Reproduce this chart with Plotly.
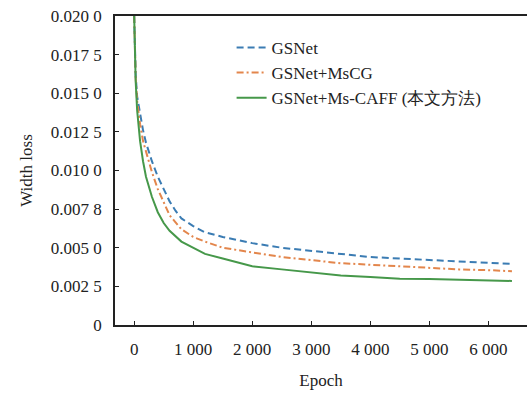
import plotly.graph_objects as go

# Data
epochs_blue = [0, 25, 50, 100, 150, 200, 300, 400, 500, 600, 700, 800, 1000, 1200, 1500,
               2000, 2500, 3000, 3500, 4000, 4500, 5000, 5500, 6000, 6400]
gsnet = [0.0200, 0.0162, 0.0148, 0.0136, 0.0126, 0.0118, 0.0106, 0.0096, 0.0088, 0.0080, 0.0074,
         0.0069, 0.0064, 0.0060, 0.0057, 0.0053, 0.0050, 0.0048, 0.0046, 0.0044, 0.0043,
         0.0042, 0.0041, 0.00400, 0.00395]

epochs_orange = [0, 25, 50, 100, 150, 200, 250, 300, 400, 500, 600, 800, 1000, 1200, 1500,
                 2000, 2500, 3000, 3500, 4000, 4500, 5000, 5500, 6000, 6400]
gsnet_mscg = [0.0200, 0.0160, 0.0145, 0.0130, 0.0119, 0.0112, 0.0105, 0.0099, 0.0088, 0.0079, 0.0071,
              0.0062, 0.0057, 0.0054, 0.0050, 0.0047, 0.0044, 0.0042, 0.0040, 0.0039, 0.0038,
              0.0037, 0.0036, 0.00355, 0.00348]

epochs_green = [0, 25, 50, 100, 150, 200, 300, 400, 500, 600, 800, 1000, 1200, 1500,
                2000, 2500, 3000, 3500, 4000, 4500, 5000, 5500, 6000, 6400]
gsnet_mscaff = [0.0200, 0.0158, 0.0139, 0.0119, 0.0106, 0.0096, 0.0083, 0.0073, 0.0066, 0.0061,
                0.0054, 0.0050, 0.0046, 0.0043, 0.0038, 0.0036, 0.0034, 0.0032, 0.0031,
                0.0030, 0.00298, 0.00292, 0.00288, 0.00285]

series_names = ["GSNet", "GSNet+MsCG", "GSNet+Ms-CAFF (本文方法)"]

x_tickvals = [0, 1000, 2000, 3000, 4000, 5000, 6000]
x_ticktext = ["0", "1 000", "2 000", "3 000", "4 000", "5 000", "6 000"]
y_tickvals = [0, 0.0025, 0.005, 0.0075, 0.01, 0.0125, 0.015, 0.0175, 0.02]
y_ticktext = ["0", "0.002 5", "0.005 0", "0.007 8", "0.010 0", "0.012 5", "0.015 0", "0.017 5", "0.020 0"]

font_family = "Liberation Serif"

fig = go.Figure()
fig.add_trace(go.Scatter(x=epochs_blue, y=gsnet, mode="lines", name=series_names[0],
                         line=dict(color="#3b7cb3", width=2, dash="7px,4px")))
fig.add_trace(go.Scatter(x=epochs_orange, y=gsnet_mscg, mode="lines", name=series_names[1],
                         line=dict(color="#e3864c", width=2, dash="7px,3px,2px,3px")))
fig.add_trace(go.Scatter(x=epochs_green, y=gsnet_mscaff, mode="lines", name=series_names[2],
                         line=dict(color="#46984a", width=2)))

fig.update_layout(
    width=528, height=394,
    margin=dict(l=115, r=1, t=16, b=69),
    paper_bgcolor="white", plot_bgcolor="white",
    font=dict(family=font_family, size=17, color="#222222"),
    showlegend=True,
    legend=dict(x=0.283, y=0.955, xanchor="left", yanchor="top",
                bgcolor="rgba(0,0,0,0)", font=dict(size=17, family=font_family),
                tracegroupgap=0),
    xaxis=dict(range=[-325, 6655], tickvals=x_tickvals, ticktext=x_ticktext,
               ticks="inside", ticklen=4, tickcolor="#222", showline=True, linecolor="#222",
               linewidth=1.5, mirror=True, showgrid=False, zeroline=False,
               ticklabelstandoff=8,
               title=dict(text="Epoch", standoff=16, font=dict(size=17, family=font_family)),
               tickfont=dict(size=17, family=font_family)),
    yaxis=dict(range=[0, 0.02], tickvals=y_tickvals, ticktext=y_ticktext,
               ticks="inside", ticklen=4, tickcolor="#222", showline=True, linecolor="#222",
               linewidth=1.5, showgrid=False, zeroline=False,
               ticklabelstandoff=8,
               title=dict(text="Width loss", standoff=14, font=dict(size=17, family=font_family)),
               tickfont=dict(size=17, family=font_family)),
)

fig.write_html("out.html", config={"displayModeBar": False},
               post_script="document.body.style.margin='0';")
